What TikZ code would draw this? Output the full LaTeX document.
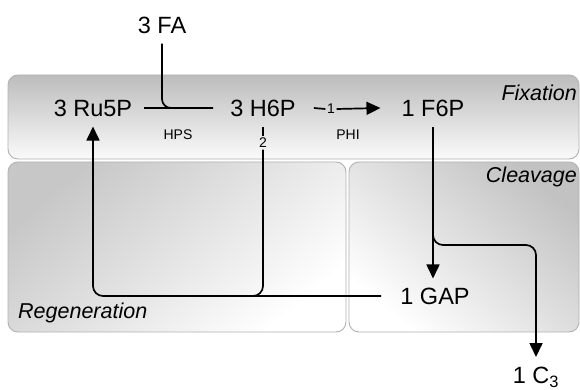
\documentclass[tikz,border=0pt]{standalone}
\usepackage{fontspec}
\setmainfont{Liberation Sans}
\usetikzlibrary{arrows.meta,calc}

\tikzset{
  panel/.style={draw=black!30, line width=0.9pt, rounded corners=10pt},
  metab/.style={inner sep=0pt, font=\fontsize{23.5}{26}\selectfont},
  enzyme/.style={inner sep=0pt, font=\fontsize{14}{16}\selectfont},
  count/.style={inner sep=1.5pt, font=\fontsize{14}{16}\selectfont},
  stage/.style={inner sep=0pt, font=\fontsize{21.5}{24}\selectfont\itshape},
  flow/.style={line width=1.7pt, black},
  flowarrow/.style={flow, -{Triangle[length=14pt,width=13pt]}},
}

\begin{document}
\begin{tikzpicture}[x=1pt,y=-1pt]
\clip (0,0) rectangle (580,390);
\fill[white] (0,0) rectangle (580,390);

% stage panels
\shade[panel, top color=black!26, bottom color=black!2]
  (8,75) rectangle (579,159);
\shade[panel, top color=black!22, bottom color=white, shading angle=40]
  (8,162) rectangle (346,332);
\shade[panel, top color=black!24, bottom color=white, shading angle=-40]
  (349,162) rectangle (579,332);

\node[stage, anchor=east] (fix) at (577,93) {Fixation};
\node[stage, anchor=east] (clv) at (577,177) {Cleavage};
\node[stage, anchor=west] (reg) at (18,313) {Regeneration};

% metabolites
\node[metab] (FA)   at (162,25)  {3 FA};
\node[metab] (Ru5P) at (93,108)  {3 Ru5P};
\node[metab] (H6P)  at (263,108) {3 H6P};
\node[metab] (F6P)  at (433,108) {1 F6P};
\node[metab] (GAP)  at (435,296) {1 GAP};
\node[metab, anchor=north] (C3) at (536,367) {1 C\textsubscript{3}};

% enzymes and stoichiometry
\node[enzyme] (HPS) at (178,135) {HPS};
\node[enzyme] (PHI) at (348,135) {PHI};
\node[count] (one) at (331,109) {1};
\node[count] (two) at (263,143) {2};

% fixation: FA + Ru5P -> H6P
\draw[flow] ([xshift=12pt]Ru5P.east) -- ([xshift=-17pt]H6P.west);
\draw[flow, rounded corners=9pt] ([yshift=-10pt]FA.south) |- ([xshift=-17pt]H6P.west);

% isomerisation H6P -> F6P
\draw[flow] ([xshift=18pt]H6P.east) -- (one.west);
\draw[flowarrow] (one.east) -- ([xshift=-21pt]F6P.west);

% cleavage F6P -> GAP + C3
\draw[flowarrow] ([yshift=-10pt]F6P.south) -- ([yshift=9pt]F6P |- GAP.north);
\coordinate (split) at (433,225);
\coordinate (turn) at (536,245);
\draw[flowarrow, rounded corners=10pt] (split) |- (turn) -- ([yshift=10pt]C3.north);

% regeneration: H6P + GAP -> Ru5P
\coordinate (merge) at (180,296);
\draw[flow] ([yshift=-10pt]H6P.south) -- (two.north);
\draw[flow, rounded corners=10pt] (two.south) |- (merge);
\draw[flowarrow, rounded corners=10pt] ([xshift=-19pt]GAP.west) -| ([yshift=-10pt]Ru5P.south);
\end{tikzpicture}
\end{document}
